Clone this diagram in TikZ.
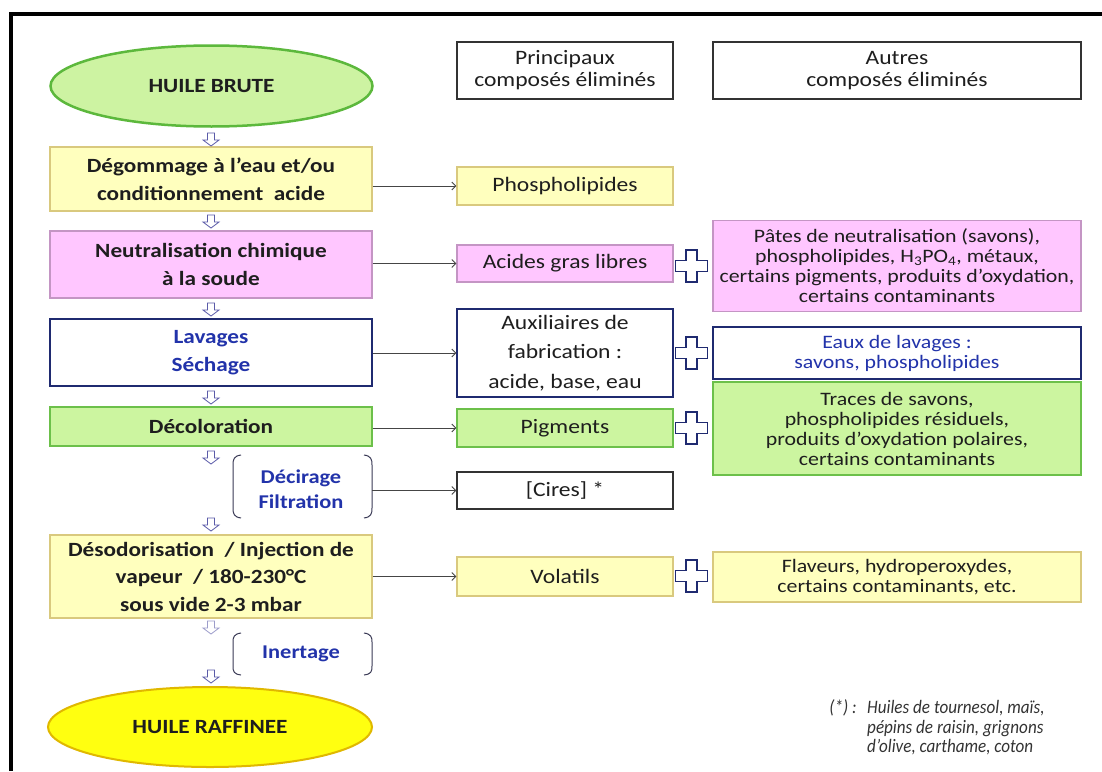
\documentclass[tikz,border=0pt]{standalone}
\usepackage{fontspec}
\setmainfont{Carlito}[FakeStretch=1.15]
\newfontfamily\fnfamily{Carlito}[FakeStretch=0.9]
\usetikzlibrary{arrows.meta,shapes.geometric}
\definecolor{ylfill}{HTML}{FFFFBE}
\definecolor{yldraw}{HTML}{D9C97E}
\definecolor{pkfill}{HTML}{FFC6FF}
\definecolor{pkdraw}{HTML}{C495C4}
\definecolor{grfill}{HTML}{CCF5A0}
\definecolor{grdraw}{HTML}{6CC04A}
\definecolor{navy}{HTML}{1F2A70}
\definecolor{bluetxt}{HTML}{2233AA}
\definecolor{txtdark}{HTML}{1E1E1E}
\definecolor{arrowc}{HTML}{5A5AA8}
\definecolor{conncol}{HTML}{454545}
\definecolor{brkcol}{HTML}{3A3A55}
\definecolor{hbfill}{HTML}{CDF3A2}
\definecolor{hbdraw}{HTML}{5CB83C}
\definecolor{hrfill}{HTML}{FFFF10}
\definecolor{hrdraw}{HTML}{E0B800}
\newcommand\myLB{\fontsize{20.2}{27.5}\selectfont\bfseries}
\newcommand\myBR{\fontsize{19.5}{25}\selectfont\bfseries}
\newcommand\myRR{\fontsize{20.5}{22}\selectfont}
\newcommand\myOR{\fontsize{19}{20}\selectfont}
\newcommand\myFN{\fnfamily\fontsize{19}{20}\selectfont\itshape}
\begin{document}
\begin{tikzpicture}[x=1pt,y=-1pt,
  lbox/.style={draw, line width=1.2pt, minimum width=322pt, inner sep=0pt, align=center, font=\myLB, text=txtdark},
  rbox/.style={draw, line width=1.2pt, minimum width=216pt, inner sep=0pt, align=center, font=\myRR, text=txtdark},
  obox/.style={draw, line width=1.2pt, minimum width=368pt, inner sep=0pt, align=center, font=\myOR, text=txtdark},
  ybox/.style={fill=ylfill, draw=yldraw},
  pbox/.style={fill=pkfill, draw=pkdraw},
  gbox/.style={fill=grfill, draw=grdraw},
  nbox/.style={fill=white, draw=navy},
  kbox/.style={fill=white, draw=black!80},
  conn/.style={draw=conncol, line width=0.9pt, -{Straight Barb[length=4pt,width=8pt]}},
  brk/.style={draw=brkcol, line width=1pt},
  darr/.pic={\draw[draw=arrowc, fill=white, line width=0.8pt]
     (-3.5,0) -- (3.5,0) -- (3.5,7) -- (8,7) -- (0,13) -- (-8,7) -- (-3.5,7) -- cycle;},
  plus/.pic={\draw[draw=navy, fill=white, line width=1.1pt]
     (-5.5,-16) -- (5.5,-16) -- (5.5,-5.5) -- (16,-5.5) -- (16,5.5) -- (5.5,5.5) -- (5.5,16)
     -- (-5.5,16) -- (-5.5,5.5) -- (-16,5.5) -- (-16,-5.5) -- (-5.5,-5.5) -- cycle;}
]
\useasboundingbox (0,0) rectangle (1102,771);
\fill[white] (0,0) rectangle (1102,771);
% frame
\draw[line width=4pt] (11,771) -- (11,14) -- (1102,14);

% left column
\node[ellipse, draw=hbdraw, fill=hbfill, line width=2.5pt, minimum width=322pt, minimum height=81pt, inner sep=0pt, font=\myLB, text=txtdark] (hb) at (211.5,86) {HUILE BRUTE};
\node[lbox, ybox, minimum height=64pt] (b1) at (211,179) {Dégommage à l’eau et/ou\\conditionnement\ \ acide};
\node[lbox, pbox, minimum height=67pt] (b2) at (211,264.5) {Neutralisation chimique\\à la soude};
\node[lbox, nbox, minimum height=67pt, text=bluetxt] (b3) at (211,352.5) {Lavages\\Séchage};
\node[lbox, gbox, minimum height=39pt] (b4) at (211,426.5) {Décoloration};
\node[font=\myBR, text=bluetxt, align=center, inner sep=0pt] (dc) at (301,489) {Décirage\\Filtration};
\node[lbox, ybox, minimum height=83pt] (b5) at (211,576.5) {Désodorisation\ \ / Injection de\\vapeur\ \ / 180-230°C\\sous vide 2-3 mbar};
\node[font=\myBR, text=bluetxt, inner sep=0pt] (in) at (301,654) {Inertage};
\node[ellipse, draw=hrdraw, fill=hrfill, line width=2pt, minimum width=324pt, minimum height=80pt, inner sep=0pt, font=\myLB, text=txtdark] (hr) at (210,727) {HUILE RAFFINEE};

% brackets
\draw[brk] (241,455) .. controls (234,456) and (233,459) .. (233,465) -- (233,508) .. controls (233,514) and (234,517) .. (241,518);
\draw[brk] (364,455) .. controls (371,456) and (372,459) .. (372,465) -- (372,508) .. controls (372,514) and (371,517) .. (364,518);
\draw[brk] (241,633) .. controls (234,634) and (233,637) .. (233,642) -- (233,666) .. controls (233,672) and (234,674) .. (241,675);
\draw[brk] (364,633) .. controls (371,634) and (372,637) .. (372,642) -- (372,666) .. controls (372,672) and (371,674) .. (364,675);
\coordinate (k1) at (372,489);

% down arrows
\pic at (211,133) {darr};
\pic at (211,215) {darr};
\pic at (211,303) {darr};
\pic at (211,391) {darr};
\pic at (211,451) {darr};
\pic at (211,518) {darr};
\pic[opacity=0.6] at (211,621) {darr};
\pic at (211,670) {darr};

% headers
\node[rbox, kbox, minimum height=57pt] (h1) at (565,70.5) {Principaux\\composés éliminés};
\node[obox, kbox, minimum height=57pt, font=\myRR] (h2) at (897,70.5) {Autres\\composés éliminés};

% middle column
\node[rbox, ybox, minimum height=38pt] (p1) at (565,186) {Phospholipides};
\node[rbox, pbox, minimum height=37pt] (p2) at (565,263.5) {Acides gras libres};
\node[rbox, nbox, minimum height=88pt, font=\fontsize{20.5}{29.5}\selectfont] (p3) at (565,353) {Auxiliaires de\\fabrication :\\acide, base, eau};
\node[rbox, gbox, minimum height=38pt] (p4) at (565,428) {Pigments};
\node[rbox, kbox, minimum height=37pt] (p5) at (565,490.5) {[Cires] *};
\node[rbox, ybox, minimum height=39pt] (p6) at (565,576.5) {Volatils};

% right column
\node[obox, pbox, minimum height=91pt] (o2) at (897,266) {Pâtes de neutralisation (savons),\\phospholipides, H\textsubscript{3}PO\textsubscript{4}, métaux,\\certains pigments, produits d’oxydation,\\certains contaminants};
\node[obox, nbox, minimum height=52pt, text=bluetxt] (o3) at (897,353) {Eaux de lavages :\\savons, phospholipides};
\node[obox, gbox, minimum height=93pt] (o4) at (897,428.5) {Traces de savons,\\phospholipides résiduels,\\produits d’oxydation polaires,\\certains contaminants};
\node[obox, ybox, minimum height=50pt] (o6) at (897,577) {Flaveurs, hydroperoxydes,\\certains contaminants, etc.};

% plus signs
\pic at (691.5,266) {plus};
\pic at (691.5,353) {plus};
\pic at (691.5,428) {plus};
\pic at (691.5,576) {plus};

% connectors
\draw[conn] (b1.east |- p1.west) -- (p1.west);
\draw[conn] (b2.east |- p2.west) -- (p2.west);
\draw[conn] (b3.east |- p3.west) -- (p3.west);
\draw[conn] (b4.east |- p4.west) -- (p4.west);
\draw[conn] (k1 |- p5.west) -- (p5.west);
\draw[conn] (b5.east |- p6.west) -- (p6.west);

% footnote
\node[font=\myFN, text=black!80, anchor=base east, inner sep=0pt] (fnm) at (857,713) {(*)\ :};
\node[font=\myFN, text=black!80, anchor=base west, inner sep=0pt] (fn1) at (867,713) {Huiles de tournesol, maïs,};
\node[font=\myFN, text=black!80, anchor=base west, inner sep=0pt] (fn2) at (867,733) {pépins de raisin, grignons};
\node[font=\myFN, text=black!80, anchor=base west, inner sep=0pt] (fn3) at (867,752) {d’olive, carthame, coton};
\end{tikzpicture}
\end{document}
